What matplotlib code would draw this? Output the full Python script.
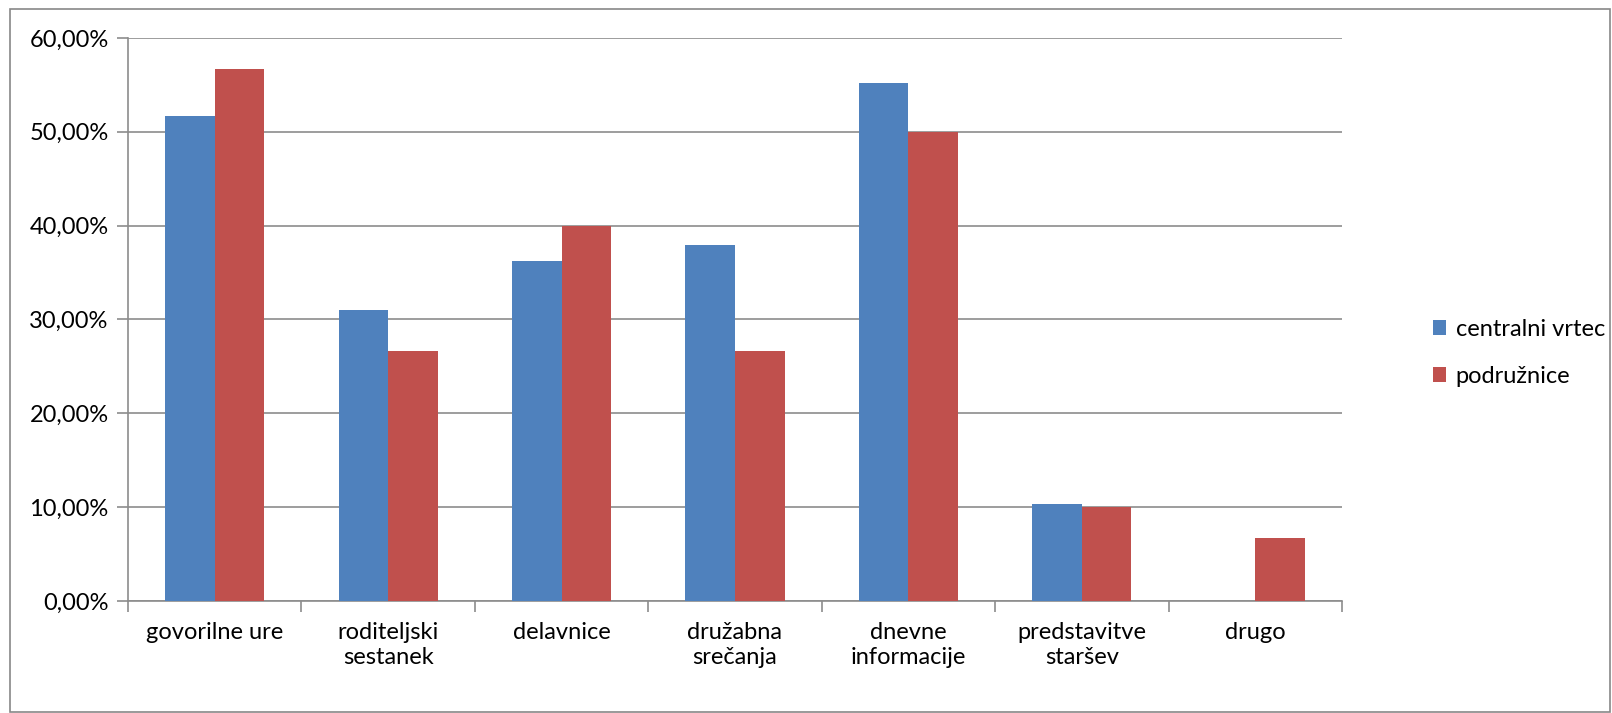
import numpy as np
import matplotlib.pyplot as plt
from matplotlib.patches import Rectangle
from matplotlib.ticker import FuncFormatter

# podatki (delež v %)
categories = ["govorilne ure", "roditeljski\nsestanek", "delavnice", "družabna\nsrečanja",
              "dnevne\ninformacije", "predstavitve\nstaršev", "drugo"]
centralni = [51.72, 31.03, 36.21, 37.93, 55.17, 10.34, 0.0]
podruznice = [56.67, 26.67, 40.00, 26.67, 50.00, 10.00, 6.67]
series_names = ["centralni vrtec", "podružnice"]

plt.rcParams['font.family'] = ['Lato', 'DejaVu Sans']

fig = plt.figure(figsize=(16.12, 7.13), dpi=100)
ax = fig.add_axes([0.0794, 0.1571, 0.7531, 0.7896])

# okvir okoli grafa
fig.patches.append(Rectangle((10 / 1612, 0.002), 1 - 10 / 1612 - 0.001, 1 - 9 / 713 - 0.002,
                             transform=fig.transFigure, fill=False, edgecolor='#888888', lw=1.2))

x = np.arange(len(categories))
w = 1 / 3.5
ax.bar(x - w / 2, centralni, w, color='#4F81BD', label=series_names[0], zorder=3)
ax.bar(x + w / 2, podruznice, w, color='#C0504D', label=series_names[1], zorder=3)

ax.set_xlim(-0.5, len(categories) - 0.5)
ax.set_ylim(0, 60)
ax.set_yticks(np.arange(0, 61, 10))
ax.yaxis.set_major_formatter(FuncFormatter(lambda v, p: f"{v:.2f}%".replace('.', ',')))
ax.grid(axis='y', color='#8c8c8c', lw=1.2, zorder=0)

# kljukice na mejah kategorij
ax.set_xticks(np.arange(-0.5, len(categories), 1))
ax.set_xticklabels([])
ax.set_xticks(x, minor=True)
ax.set_xticklabels(categories, minor=True, fontsize=17, linespacing=1.25)
ax.tick_params(axis='x', which='minor', length=0, pad=15)
ax.tick_params(axis='x', which='major', length=8, color='#8c8c8c', width=1.2)
ax.tick_params(axis='y', length=8, color='#8c8c8c', width=1.2, labelsize=17, pad=6)

for s in ['top', 'right']:
    ax.spines[s].set_visible(False)
for s in ['left', 'bottom']:
    ax.spines[s].set_color('#8c8c8c')
    ax.spines[s].set_linewidth(1.2)

fig.legend(loc='center left', bbox_to_anchor=(0.876, 0.505), frameon=False, fontsize=17,
           handlelength=0.55, handleheight=0.55, handletextpad=0.4, labelspacing=1.1)

fig.savefig("out.png", dpi=100)
